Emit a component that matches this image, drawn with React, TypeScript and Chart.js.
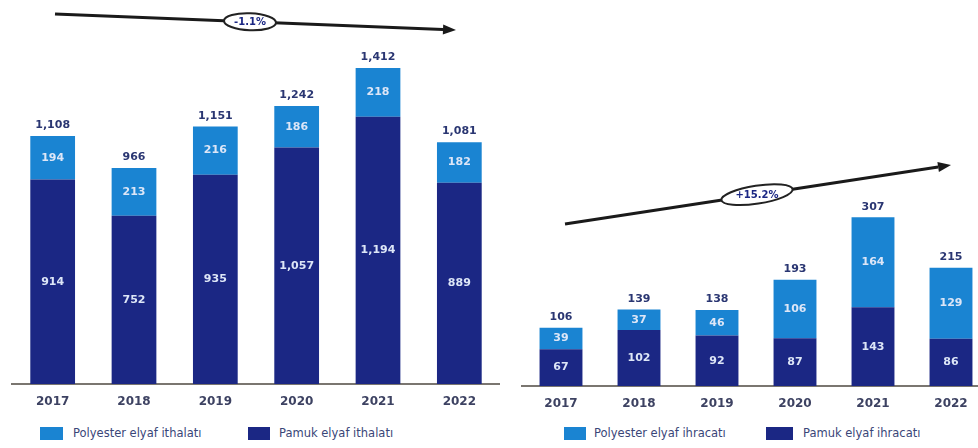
import React, { useEffect, useRef } from "react";
import { Chart, registerables } from "chart.js";
Chart.register(...registerables);

const years = ["2017", "2018", "2019", "2020", "2021", "2022"];
const importPolyester = [194, 213, 216, 186, 218, 182];
const importCotton = [914, 752, 935, 1057, 1194, 899];
const importTotals = ["1,108", "966", "1,151", "1,242", "1,412", "1,081"];
const importCotTxt = ["914", "752", "935", "1,057", "1,194", "889"];
const exportPolyester = [39, 37, 46, 106, 164, 129];
const exportCotton = [67, 102, 92, 87, 143, 86];
const exportTotals = ["106", "139", "138", "193", "307", "215"];
const importCagr = "-1.1%";
const exportCagr = "+15.2%";

const LIGHT = "#1a84d2";
const DARK = "#1b2784";
const FONT = "'DejaVu Sans', sans-serif";

const labelPlugin = {
  id: "stackLabels",
  afterDatasetsDraw(chart: any, _a: any, opts: any) {
    const ctx = chart.ctx;
    ctx.save();
    ctx.textAlign = "center";
    ctx.textBaseline = "middle";
    ctx.font = "bold 11px " + FONT;
    chart.data.datasets.forEach((ds: any, di: number) => {
      const meta = chart.getDatasetMeta(di);
      meta.data.forEach((el: any, i: number) => {
        const txt = opts.inner[di] ? opts.inner[di][i] : String(ds.data[i]);
        ctx.fillStyle = "#dde6f7";
        ctx.fillText(txt, el.x, (el.y + el.base) / 2);
      });
    });
    const top = chart.getDatasetMeta(chart.data.datasets.length - 1);
    ctx.textBaseline = "bottom";
    ctx.fillStyle = "#2a3672";
    top.data.forEach((el: any, i: number) => {
      ctx.fillText(opts.totals[i], el.x, el.y - 5);
    });
    ctx.restore();
  },
};

const arrowPlugin = {
  id: "cagrArrow",
  afterDraw(chart: any, _a: any, opts: any) {
    const ctx = chart.ctx;
    const { x1, y1, x2, y2, cx, label, ew, eh } = opts;
    ctx.save();
    ctx.strokeStyle = "#1a1a1a";
    ctx.fillStyle = "#1a1a1a";
    ctx.lineWidth = 3;
    const ang = Math.atan2(y2 - y1, x2 - x1);
    const hl = 13;
    const ex = x2 - hl * Math.cos(ang);
    const ey = y2 - hl * Math.sin(ang);
    ctx.beginPath();
    ctx.moveTo(x1, y1);
    ctx.lineTo(ex, ey);
    ctx.stroke();
    ctx.beginPath();
    ctx.moveTo(x2, y2);
    ctx.lineTo(ex + 5 * Math.sin(ang), ey - 5 * Math.cos(ang));
    ctx.lineTo(ex - 5 * Math.sin(ang), ey + 5 * Math.cos(ang));
    ctx.closePath();
    ctx.fill();
    const cy = y1 + ((cx - x1) / (x2 - x1)) * (y2 - y1);
    ctx.beginPath();
    ctx.ellipse(cx, cy, ew / 2, eh / 2, ang, 0, Math.PI * 2);
    ctx.fillStyle = "#ffffff";
    ctx.fill();
    ctx.lineWidth = 2;
    ctx.strokeStyle = "#222";
    ctx.stroke();
    ctx.fillStyle = DARK;
    ctx.font = "bold 10px " + FONT;
    ctx.textAlign = "center";
    ctx.textBaseline = "middle";
    ctx.fillText(label, cx, cy + 0.5);
    ctx.restore();
  },
};

function makeConfig(
  poly: number[],
  cot: number[],
  totals: string[],
  cotTxt: string[] | null,
  max: number,
  padTop: number,
  arrow: any
): any {
  return {
    type: "bar",
    data: {
      labels: years,
      datasets: [
        { label: "cotton", data: cot, backgroundColor: DARK, barPercentage: 0.55, categoryPercentage: 1 },
        { label: "polyester", data: poly, backgroundColor: LIGHT, barPercentage: 0.55, categoryPercentage: 1 },
      ],
    },
    options: {
      animation: false,
      responsive: true,
      maintainAspectRatio: false,
      layout: { padding: { left: 12, right: 0, top: padTop, bottom: 0 } },
      plugins: {
        legend: { display: false },
        tooltip: { enabled: false },
        stackLabels: { totals, inner: [cotTxt, null] },
        cagrArrow: arrow,
      },
      scales: {
        x: {
          stacked: true,
          grid: { display: false, drawTicks: false },
          border: { display: true, color: "#7a7670", width: 2 },
          ticks: { color: "#3d4262", font: { family: FONT, size: 12, weight: "bold" }, padding: 11 },
          afterFit(scale: any) {
            scale.height = 30;
          },
        },
        y: { stacked: true, display: false, min: 0, max },
      },
    },
    plugins: [labelPlugin, arrowPlugin],
  };
}

function BarChart({ config, style }: { config: any; style: React.CSSProperties }) {
  const ref = useRef<HTMLCanvasElement | null>(null);
  useEffect(() => {
    const c = new Chart(ref.current as HTMLCanvasElement, config);
    return () => c.destroy();
  }, []);
  return (
    <div style={{ position: "absolute", ...style }}>
      <canvas ref={ref} />
    </div>
  );
}

function LegendItem({ x, sq, color, text, tx }: { x: number; sq: number; color: string; text: string; tx: number }) {
  return (
    <>
      <div style={{ position: "absolute", left: x, top: 427, width: sq, height: 13, background: color }} />
      <div
        style={{
          position: "absolute",
          left: tx,
          top: 426,
          fontFamily: FONT,
          fontSize: 11.5,
          lineHeight: "15px",
          color: "#3a4678",
          whiteSpace: "nowrap",
        }}
      >
        {text}
      </div>
    </>
  );
}

export default function App() {
  const left = makeConfig(importPolyester, importCotton, importTotals, importCotTxt, 1600, 26, {
    x1: 55, y1: 14, x2: 456, y2: 30, cx: 250, label: importCagr, ew: 52, eh: 17,
  });
  const right = makeConfig(exportPolyester, exportCotton, exportTotals, null, 350, 193.5, {
    x1: 55, y1: 224, x2: 441, y2: 165, cx: 247, label: exportCagr, ew: 72, eh: 18,
  });
  return (
    <div style={{ position: "fixed", left: 0, top: 0, width: 978, height: 448, overflow: "hidden", background: "#fff" }}>
      <BarChart config={left} style={{ left: 0, top: 0, width: 500, height: 414 }} />
      <BarChart config={right} style={{ left: 510, top: 0, width: 480, height: 416 }} />
      <LegendItem x={40} sq={23} color={LIGHT} text="Polyester elyaf ithalatı" tx={73} />
      <LegendItem x={248} sq={22} color={DARK} text="Pamuk elyaf ithalatı" tx={279} />
      <LegendItem x={564} sq={22} color={LIGHT} text="Polyester elyaf ihracatı" tx={594} />
      <LegendItem x={766} sq={27} color={DARK} text="Pamuk elyaf ihracatı" tx={803} />
    </div>
  );
}
